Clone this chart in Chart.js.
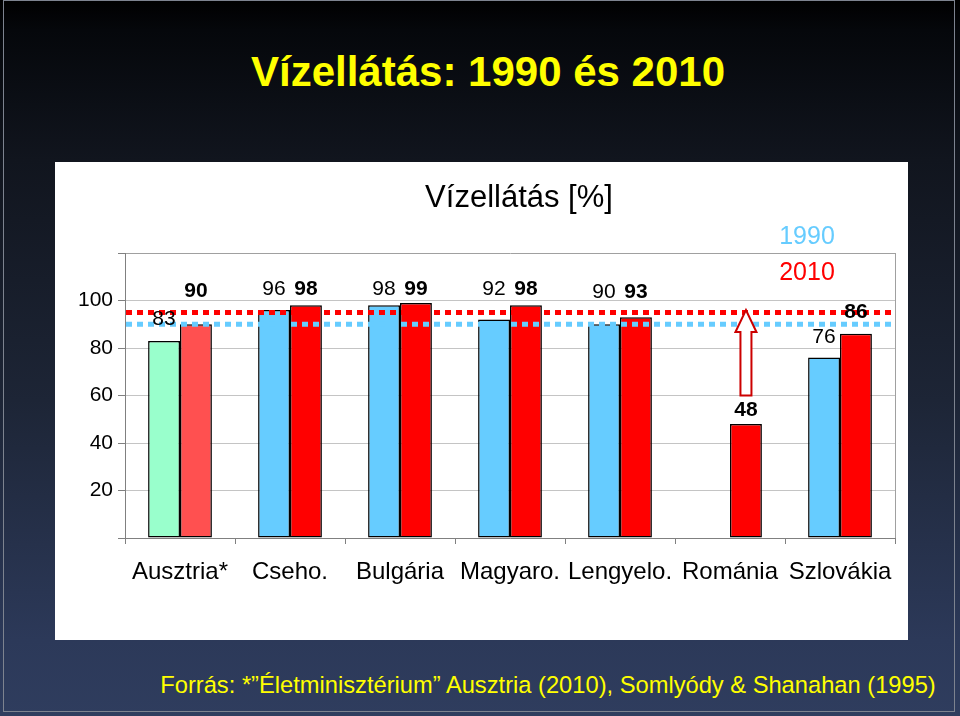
<!DOCTYPE html>
<html>
<head>
<meta charset="utf-8">
<script src="https://cdn.jsdelivr.net/npm/chart.js@4/dist/chart.umd.min.js"></script>
<style>
  html, body { margin: 0; padding: 0; }
  body {
    width: 960px; height: 716px; overflow: hidden; position: relative;
    background: linear-gradient(to bottom, #000000 0px, #05070b 30px, #11151e 160px, #1d2536 400px, #2c3959 640px, #2f3d5e 716px);
    font-family: 'Liberation Sans', Arial, sans-serif;
  }
  #frame { position: absolute; left: 3px; top: 0px; width: 952px; height: 712px; border: 1px solid #7d838f; box-sizing: border-box; }
  #title { position: absolute; left: 0; width: 976px; top: 44px; text-align: center; color: #ffff00; font-weight: bold; font-size: 42px; line-height: 56px; }
  #panel { position: absolute; left: 55px; top: 162px; width: 853px; height: 478px; background: #ffffff; }
  #foot { position: absolute; left: 0; width: 1096px; top: 671px; text-align: center; color: #ffff00; font-size: 23.7px; line-height: 28px; white-space: nowrap; }
</style>
</head>
<body>
<div id="frame"></div>
<div id="title">Vízellátás: 1990 és 2010</div>
<div id="panel"><canvas id="c" width="853" height="478"></canvas></div>
<div id="foot">Forrás: *”Életminisztérium” Ausztria (2010), Somlyódy &amp; Shanahan (1995)</div>
<script>
// ---- data ----
const categories = ['Ausztria*', 'Cseho.', 'Bulgária', 'Magyaro.', 'Lengyelo.', 'Románia', 'Szlovákia'];
const values1990 = [83, 96, 98, 92, 90, null, 76];
const values2010 = [90, 98, 99, 98, 93, 48, 86];
const yTickValues = [20, 40, 60, 80, 100];
const yRange = [0, 120];
const refLine1990 = 90;
const refLine2010 = 95;
// where each value label sits, in axis units
const label1990At = [92.2, 104.8, 104.8, 104.8, 103.3, null, 84.6];
const label2010At = [104.1, 104.8, 104.8, 104.8, 103.3, 53.9, 95.1];
// Románia arrow (axis units)
const arrowFrom = 60;
const arrowTo = 96;

const FONT = "'Liberation Sans', Arial, sans-serif";
const C1990 = '#66ccff', C1990A = '#99ffcc', C2010 = '#ff0000', C2010A = '#ff5050';

const overlay = {
  id: 'overlay',
  beforeDatasetsDraw(chart) {
    const { ctx, chartArea: a } = chart;
    ctx.save();
    ctx.strokeStyle = '#a0a0a0';
    ctx.lineWidth = 1;
    ctx.beginPath();
    ctx.moveTo(a.right + 0.5, a.top);
    ctx.lineTo(a.right + 0.5, a.bottom);
    ctx.stroke();
    ctx.restore();
  },
  afterDatasetsDraw(chart) {
    const { ctx, chartArea: a, scales } = chart;
    const y = scales.y;
    ctx.save();
    // reference dotted lines
    ctx.lineWidth = 5;
    ctx.lineCap = 'butt';
    ctx.setLineDash([6, 5]);
    [[refLine1990, C1990], [refLine2010, C2010]].forEach(([v, col]) => {
      const py = y.getPixelForValue(v);
      ctx.strokeStyle = col;
      ctx.beginPath();
      ctx.moveTo(a.left + 1, py);
      ctx.lineTo(a.right, py);
      ctx.stroke();
    });
    ctx.setLineDash([]);

    // value labels
    ctx.fillStyle = '#000';
    ctx.textAlign = 'center';
    ctx.textBaseline = 'middle';
    const m0 = chart.getDatasetMeta(0), m1 = chart.getDatasetMeta(1);
    values1990.forEach((v, i) => {
      if (v == null) return;
      ctx.font = '21px ' + FONT;
      ctx.fillText(String(v), m0.data[i].x, y.getPixelForValue(label1990At[i]));
    });
    values2010.forEach((v, i) => {
      if (v == null) return;
      ctx.font = 'bold 21px ' + FONT;
      ctx.fillText(String(v), m1.data[i].x, y.getPixelForValue(label2010At[i]));
    });

    // arrow on Románia
    const ri = categories.indexOf('Románia');
    const ax = m1.data[ri].x;
    const yb = y.getPixelForValue(arrowFrom), yt = y.getPixelForValue(arrowTo);
    const sw = 5.5, hw = 10.5, hh = 22;
    ctx.beginPath();
    ctx.moveTo(ax, yt);
    ctx.lineTo(ax + hw, yt + hh);
    ctx.lineTo(ax + sw, yt + hh);
    ctx.lineTo(ax + sw, yb);
    ctx.lineTo(ax - sw, yb);
    ctx.lineTo(ax - sw, yt + hh);
    ctx.lineTo(ax - hw, yt + hh);
    ctx.closePath();
    ctx.fillStyle = '#ffffff';
    ctx.fill();
    ctx.strokeStyle = '#cc0000';
    ctx.lineWidth = 2;
    ctx.stroke();

    // chart title
    ctx.fillStyle = '#000';
    ctx.font = '31px ' + FONT;
    ctx.textAlign = 'center';
    ctx.fillText('Vízellátás [%]', (a.left + a.right) / 2 + 9, a.top - 55);

    // legend (text only)
    ctx.font = '25px ' + FONT;
    ctx.fillStyle = C1990;
    ctx.fillText(chart.data.datasets[0].label, a.right - 88, a.top - 16);
    ctx.fillStyle = C2010;
    ctx.fillText(chart.data.datasets[1].label, a.right - 88, a.top + 20);
    ctx.restore();
  }
};

new Chart(document.getElementById('c'), {
  type: 'bar',
  data: {
    labels: categories,
    datasets: [
      { label: '1990', data: values1990,
        backgroundColor: c => c.dataIndex === 0 ? C1990A : C1990,
        borderColor: '#000', borderWidth: 1.5, borderSkipped: false },
      { label: '2010', data: values2010,
        backgroundColor: c => c.dataIndex === 0 ? C2010A : C2010,
        borderColor: '#000', borderWidth: 1.5, borderSkipped: false }
    ]
  },
  options: {
    responsive: false,
    animation: false,
    layout: { padding: { left: 0, right: 13, top: 91, bottom: 0 } },
    datasets: { bar: { categoryPercentage: 0.58, barPercentage: 1.0 } },
    plugins: { legend: { display: false }, tooltip: { enabled: false }, title: { display: false } },
    scales: {
      x: {
        afterFit: s => { s.height = 102; },
        grid: { offset: true, drawOnChartArea: false, tickLength: 6, color: '#808080' },
        border: { color: '#808080', width: 1 },
        ticks: { autoSkip: false, maxRotation: 0, minRotation: 0, padding: 14, color: '#000', font: { family: FONT, size: 24 } }
      },
      y: {
        min: yRange[0], max: yRange[1],
        afterFit: s => { s.width = 70; },
        afterBuildTicks: s => { s.ticks = [yRange[0], ...yTickValues, yRange[1]].map(v => ({ value: v })); },
        grid: { color: c => (c.tick && c.tick.value === yRange[1]) ? '#a0a0a0' : '#c4c4c4', tickLength: 7, tickColor: '#808080' },
        border: { color: '#808080', width: 1 },
        ticks: {
          padding: 5, color: '#000', font: { family: FONT, size: 21 },
          callback: v => yTickValues.includes(v) ? String(v) : ''
        }
      }
    }
  },
  plugins: [overlay]
});
</script>
</body>
</html>
